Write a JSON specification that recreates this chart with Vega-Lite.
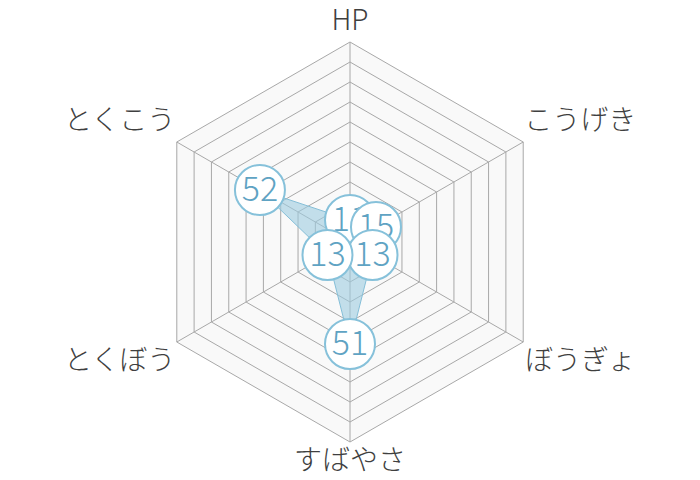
{
  "$schema": "https://vega.github.io/schema/vega-lite/v6.json",
  "width": 700,
  "height": 480,
  "padding": 0,
  "autosize": {"type": "fit", "contains": "padding"},
  "background": "#ffffff",
  "config": {"view": {"stroke": null}, "font": "Noto Sans CJK JP"},
  "datasets": {
    "stats": [
      {"stat": "HP", "value": 11, "k": 0},
      {"stat": "こうげき", "value": 15, "k": 1},
      {"stat": "ぼうぎょ", "value": 13, "k": 2},
      {"stat": "すばやさ", "value": 51, "k": 3},
      {"stat": "とくぼう", "value": 13, "k": 4},
      {"stat": "とくこう", "value": 52, "k": 5}
    ],
    "rings": [
      {"level": 10, "k": [0, 1, 2, 3, 4, 5]},
      {"level": 20, "k": [0, 1, 2, 3, 4, 5]},
      {"level": 30, "k": [0, 1, 2, 3, 4, 5]},
      {"level": 40, "k": [0, 1, 2, 3, 4, 5]},
      {"level": 50, "k": [0, 1, 2, 3, 4, 5]},
      {"level": 60, "k": [0, 1, 2, 3, 4, 5]},
      {"level": 70, "k": [0, 1, 2, 3, 4, 5]},
      {"level": 80, "k": [0, 1, 2, 3, 4, 5]},
      {"level": 90, "k": [0, 1, 2, 3, 4, 5]},
      {"level": 100, "k": [0, 1, 2, 3, 4, 5]}
    ]
  },
  "encoding": {
    "x": {"field": "x", "type": "quantitative", "axis": null,
          "scale": {"domain": [-175, 175], "nice": false, "zero": false}},
    "y": {"field": "y", "type": "quantitative", "axis": null,
          "scale": {"domain": [-119, 121], "nice": false, "zero": false}}
  },
  "layer": [
    {
      "data": {"name": "rings"},
      "transform": [
        {"flatten": ["k"]},
        {"calculate": "datum.level * sin(datum.k * PI / 3)", "as": "x"},
        {"calculate": "datum.level * cos(datum.k * PI / 3)", "as": "y"}
      ],
      "layer": [
        {
          "transform": [{"filter": "datum.level == 100"}],
          "mark": {"type": "line", "interpolate": "linear-closed", "fill": "#f9f9f9", "stroke": "transparent"},
          "encoding": {"order": {"field": "k"}}
        },
        {
          "mark": {"type": "line", "interpolate": "linear-closed", "stroke": "#a8a8a8", "strokeWidth": 1},
          "encoding": {"order": {"field": "k"}, "detail": {"field": "level"}}
        }
      ]
    },
    {
      "data": {"name": "stats"},
      "transform": [
        {"calculate": "0", "as": "x"},
        {"calculate": "0", "as": "y"},
        {"calculate": "100 * sin(datum.k * PI / 3)", "as": "x2"},
        {"calculate": "100 * cos(datum.k * PI / 3)", "as": "y2"}
      ],
      "mark": {"type": "rule", "stroke": "#a8a8a8", "strokeWidth": 1},
      "encoding": {"x2": {"field": "x2"}, "y2": {"field": "y2"}}
    },
    {
      "data": {"name": "stats"},
      "transform": [
        {"calculate": "datum.value * sin(datum.k * PI / 3)", "as": "x"},
        {"calculate": "datum.value * cos(datum.k * PI / 3)", "as": "y"}
      ],
      "mark": {"type": "line", "interpolate": "linear-closed", "fill": "#9ccbe0", "fillOpacity": 0.6,
               "stroke": "#86bfd8", "strokeWidth": 1},
      "encoding": {"order": {"field": "k"}}
    },
    {
      "data": {"name": "stats"},
      "transform": [
        {"calculate": "133 * sin(datum.k * PI / 3)", "as": "x"},
        {"calculate": "100 * cos(datum.k * PI / 3) + 10 * (cos(datum.k * PI / 3) > 0 ? 1 : -1)", "as": "y"}
      ],
      "mark": {"type": "text", "fontSize": 28, "fontWeight": 300, "color": "#3f3f3f", "align": "center", "baseline": "middle"},
      "encoding": {"text": {"field": "stat"}}
    },
    {
      "data": {"name": "stats"},
      "transform": [
        {"calculate": "datum.value * sin(datum.k * PI / 3)", "as": "x"},
        {"calculate": "datum.value * cos(datum.k * PI / 3)", "as": "y"}
      ],
      "layer": [
        {"transform": [{"filter": "datum.k == 0"}], "layer": [
          {"mark": {"type": "point", "shape": "circle", "size": 2500, "filled": true, "fill": "#ffffff", "stroke": "#86c1da", "strokeWidth": 2, "opacity": 1}},
          {"mark": {"type": "text", "fontSize": 34, "fontWeight": 300, "color": "#5fa3c3", "baseline": "middle", "dy": 1}, "encoding": {"text": {"field": "value"}}}
        ]},
        {"transform": [{"filter": "datum.k == 1"}], "layer": [
          {"mark": {"type": "point", "shape": "circle", "size": 2500, "filled": true, "fill": "#ffffff", "stroke": "#86c1da", "strokeWidth": 2, "opacity": 1}},
          {"mark": {"type": "text", "fontSize": 34, "fontWeight": 300, "color": "#5fa3c3", "baseline": "middle", "dy": 1}, "encoding": {"text": {"field": "value"}}}
        ]},
        {"transform": [{"filter": "datum.k == 2"}], "layer": [
          {"mark": {"type": "point", "shape": "circle", "size": 2500, "filled": true, "fill": "#ffffff", "stroke": "#86c1da", "strokeWidth": 2, "opacity": 1}},
          {"mark": {"type": "text", "fontSize": 34, "fontWeight": 300, "color": "#5fa3c3", "baseline": "middle", "dy": 1}, "encoding": {"text": {"field": "value"}}}
        ]},
        {"transform": [{"filter": "datum.k == 3"}], "layer": [
          {"mark": {"type": "point", "shape": "circle", "size": 2500, "filled": true, "fill": "#ffffff", "stroke": "#86c1da", "strokeWidth": 2, "opacity": 1}},
          {"mark": {"type": "text", "fontSize": 34, "fontWeight": 300, "color": "#5fa3c3", "baseline": "middle", "dy": 1}, "encoding": {"text": {"field": "value"}}}
        ]},
        {"transform": [{"filter": "datum.k == 4"}], "layer": [
          {"mark": {"type": "point", "shape": "circle", "size": 2500, "filled": true, "fill": "#ffffff", "stroke": "#86c1da", "strokeWidth": 2, "opacity": 1}},
          {"mark": {"type": "text", "fontSize": 34, "fontWeight": 300, "color": "#5fa3c3", "baseline": "middle", "dy": 1}, "encoding": {"text": {"field": "value"}}}
        ]},
        {"transform": [{"filter": "datum.k == 5"}], "layer": [
          {"mark": {"type": "point", "shape": "circle", "size": 2500, "filled": true, "fill": "#ffffff", "stroke": "#86c1da", "strokeWidth": 2, "opacity": 1}},
          {"mark": {"type": "text", "fontSize": 34, "fontWeight": 300, "color": "#5fa3c3", "baseline": "middle", "dy": 1}, "encoding": {"text": {"field": "value"}}}
        ]}
      ]
    }
  ]
}
